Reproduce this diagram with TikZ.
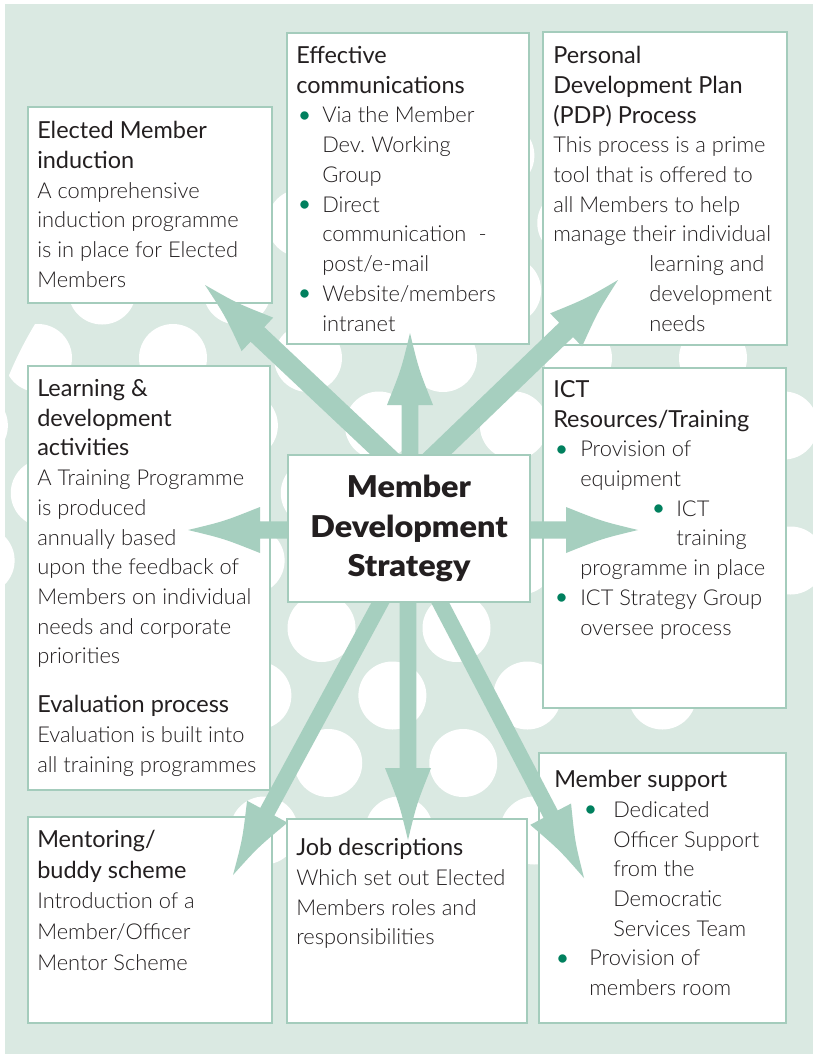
\documentclass[tikz,border=0pt]{standalone}
\usepackage{fontspec}
\usetikzlibrary{calc,fit}
\setmainfont{Lato}
\IfFontExistsTF{Lato Light}{\newfontfamily\bodyfont{Lato Light}}{\newfontfamily\bodyfont{Lato}}
\newfontfamily\headfont{Lato}
\IfFontExistsTF{Lato Black}
  {\newfontfamily\titlefont{Lato Black}[FakeStretch=1.08]\def\titlesize{22.5}}
  {\newfontfamily\titlefont{Lato}[UprightFont=*-Bold,FakeStretch=1.08]\def\titlesize{23.4}}

\definecolor{pagebg}{HTML}{DAE9E2}
\definecolor{framegreen}{HTML}{A4CCBC}
\definecolor{arrowgreen}{HTML}{A6CFBF}
\definecolor{dotgreen}{HTML}{00805E}
\definecolor{inkgrey}{HTML}{231F20}

% one drawing unit = one pixel of the layout grid
\newdimen\px \px=0.75pt

% heading line, bullet and indentation helpers
\newcommand\hd[1]{{\headfont\fontsize{17.6}{22.3}\selectfont #1}}
\newcommand\bul{\textcolor{dotgreen}{\raisebox{-0.06em}{\scalebox{1.3}{\textbullet}}}}
\newcommand\bpt[1]{\makebox[#1\px][l]{\bul}}
\newcommand\skipx[1]{\hspace*{#1\px}}

% arrow head geometry
\def\headlen{54pt}
\def\headmid{27pt}
\def\headhw{17.25pt}
\def\headcw{6.5pt}

% broad arrow with concave head: #1 start, #2 tip, #3 half shaft width, #4 prefix
\newcommand\fatarrow[4]{%
  \coordinate (#4-b) at ($(#2)!\headlen!(#1)$);
  \coordinate (#4-m) at ($(#2)!\headmid!(#1)$);
  \fill[arrowgreen]
    ($(#1)!#3!90:(#2)$) -- ($(#4-b)!#3!90:(#2)$) -- ($(#4-b)!\headhw!90:(#2)$)
    .. controls ($(#4-m)!\headcw!90:(#2)$) .. (#2)
    .. controls ($(#4-m)!\headcw!-90:(#2)$) .. ($(#4-b)!\headhw!-90:(#2)$)
    -- ($(#4-b)!#3!-90:(#2)$) -- ($(#1)!#3!-90:(#2)$) -- cycle;
}

\frenchspacing

\begin{document}
\begin{tikzpicture}[x=0.75pt,y=-0.75pt,
  panel/.style={draw=framegreen, line width=2.2pt, fill=white, inner sep=0pt},
  copy/.style={anchor=north west, inner sep=0pt, align=left, text=inkgrey,
    font=\bodyfont\fontsize{16.4}{22.3}\selectfont,
    execute at begin node={\rule{0pt}{16pt}}},
  title/.style={align=center, text=inkgrey,
    font=\titlefont\fontsize{\titlesize}{29.3}\selectfont}]

\useasboundingbox (0,0) rectangle (813,1054);
\fill[pagebg] (5,4) rectangle (813,1054);

% white dots of the backdrop, thinned out towards the lower corners
\begin{scope}
  \clip (410,520) ellipse [x radius=322.5pt, y radius=300pt];
  \foreach \j in {-4,...,8}{
    \foreach \i in {-4,...,4}{
      \pgfmathsetmacro\yy{358+67.5*\j}
      \pgfmathsetmacro\xx{443+135*\i-67.5*mod(abs(\j),2)+0.05*(\yy-358)}
      \pgfmathsetmacro\keep{((\yy>700 && \xx<240) || (\yy>600 && \xx<100)
        || (\yy>650 && \xx>780) || (\yy>740 && \xx>560)) ? 0 : 1}
      \ifdim\keep pt>0.5pt
        \fill[white] (\xx,\yy) circle [radius=25.5pt];
      \fi
    }
  }
\end{scope}

% outer panels
\node[panel, fit={(28,107) (272,303)}] (induct) {};
\node[panel, fit={(287,33) (529,344)}] (comms) {};
\node[panel, fit={(543,32) (787,345)}] (pdp) {};
\node[panel, fit={(28,366) (270,790)}] (learn) {};
\node[panel, fit={(543,368) (786,708)}] (ict) {};
\node[panel, fit={(28,817) (272,1023)}] (mentor) {};
\node[panel, fit={(287,819) (527,1023)}] (jobs) {};
\node[panel, fit={(539,753) (786,1023)}] (support) {};

% arrow origins and tips
\coordinate (oUL) at (411,479); \coordinate (tUL) at (205,285);
\coordinate (oU)  at (410,528); \coordinate (tU)  at (410,333);
\coordinate (oUR) at (411,479); \coordinate (tUR) at (618,280);
\coordinate (oL)  at (409,530); \coordinate (tL)  at (188,530);
\coordinate (oR)  at (409,530); \coordinate (tR)  at (638,530);
\coordinate (oDL) at (409,550); \coordinate (tDL) at (233,875);
\coordinate (oD)  at (408,528); \coordinate (tD)  at (408,840);
\coordinate (oDR) at (409,543); \coordinate (tDR) at (584,878);

\fatarrow{oUL}{tUL}{7.5pt}{aUL}
\fatarrow{oU}{tU}{6.2pt}{aU}
\fatarrow{oUR}{tUR}{7.5pt}{aUR}
\fatarrow{oL}{tL}{6.4pt}{aL}
\fatarrow{oR}{tR}{6.4pt}{aR}
\fatarrow{oDL}{tDL}{6pt}{aDL}
\fatarrow{oD}{tD}{6.2pt}{aD}
\fatarrow{oDR}{tDR}{6pt}{aDR}

% central panel
\node[panel, title, minimum width=181.5pt, minimum height=110.25pt] (core) at (409,528.5)
  {Member\\Development\\Strategy};

% panel texts
\node[copy] (induct-text) at (37,121)
  {\hd{Elected Member}\\\hd{induction}\\A comprehensive\\induction programme\\is in place for Elected\\Members};

\node[copy] (comms-text) at (296,46)
  {\hd{Effective}\\\hd{communications}\\\bpt{26}Via the Member\\\skipx{26}Dev. Working\\\skipx{26}Group\\%
   \bpt{26}Direct\\\skipx{26}communication\hspace{0.55em}-\\\skipx{26}post/e-mail\\%
   \bpt{26}Website/members\\\skipx{26}intranet};

\node[copy] (pdp-text) at (553,46)
  {\hd{Personal}\\\hd{Development Plan}\\\hd{(PDP) Process}\\This process is a prime\\tool that is offered to\\%
   all Members to help\\manage their individual\\\skipx{96}learning and\\\skipx{96}development\\\skipx{96}needs};

\node[copy] (learn-text) at (37,379)
  {\hd{Learning \&}\\\hd{development}\\\hd{activities}\\A Training Programme\\is produced\\annually based\\%
   upon the feedback of\\Members on individual\\needs and corporate\\priorities\\[14.3pt]%
   \hd{Evaluation process}\\Evaluation is built into\\all training programmes};

\node[copy] (ict-text) at (553,380)
  {\hd{ICT}\\\hd{Resources/Training}\\\bpt{27}Provision of\\\skipx{27}equipment\\\skipx{97}\bpt{26}ICT\\%
   \skipx{123}training\\\skipx{27}programme in place\\\bpt{27}ICT Strategy Group\\\skipx{27}oversee process};

\node[copy, font=\bodyfont\fontsize{16.4}{23}\selectfont] (mentor-text) at (37,830)
  {\hd{Mentoring/}\\\hd{buddy scheme}\\Introduction of a\\Member/Officer\\Mentor Scheme};

\node[copy] (jobs-text) at (296,838)
  {\hd{Job descriptions}\\Which set out Elected\\Members roles and\\responsibilities};

\node[copy] (support-text) at (554,770)
  {\hd{Member support}\\\skipx{28}\bpt{31}Dedicated\\\skipx{59}Officer Support\\\skipx{59}from the\\%
   \skipx{59}Democratic\\\skipx{59}Services Team\\\bpt{35}Provision of\\\skipx{35}members room};

\end{tikzpicture}
\end{document}
